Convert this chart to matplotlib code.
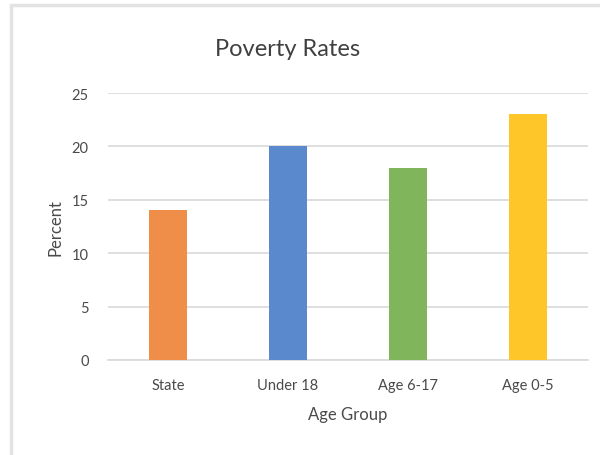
import matplotlib
matplotlib.use("Agg")
import matplotlib.pyplot as plt
from matplotlib.patches import Rectangle

categories = ["State", "Under 18", "Age 6-17", "Age 0-5"]
values = [14, 20, 18, 23]
colors = ["#EF8E48", "#5A8ACD", "#80B55B", "#FFC62A"]
yticks = [0, 5, 10, 15, 20, 25]

plt.rcParams['font.family'] = ['Lato', 'DejaVu Sans']

fig = plt.figure(figsize=(6.0, 4.56), dpi=100)
fig.patch.set_facecolor("white")

# outer chart frame
fig.patches.append(Rectangle((11/600, -0.01), 1.2, 1 - 6/456 + 0.01,
                             transform=fig.transFigure, fill=False,
                             edgecolor="#e3e3e3", linewidth=2.5))

ax = fig.add_axes([108/600, 1 - 361/456, 480/600, (361 - 94)/456])
x = list(range(len(categories)))
ax.bar(x, values, width=0.31, color=colors, zorder=3)
ax.set_xlim(-0.5, len(categories) - 0.5)
ax.set_ylim(0, 25)
ax.set_yticks(yticks)
ax.set_xticks(x)
ax.set_xticklabels(categories)
ax.yaxis.grid(True, color="#d9d9d9", linewidth=1.2, zorder=0)
for s in ["top", "right", "left"]:
    ax.spines[s].set_visible(False)
ax.spines["bottom"].set_color("#d9d9d9")
ax.spines["bottom"].set_linewidth(1.2)
ax.tick_params(axis="both", length=0, labelsize=10.5, colors="#4a4a4a")
ax.tick_params(axis="x", pad=13)
ax.tick_params(axis="y", pad=14)
ax.set_xlabel("Age Group", fontsize=12, color="#4a4a4a", labelpad=10)
ax.set_ylabel("Percent", fontsize=12, color="#4a4a4a", labelpad=6)
fig.text(288/600, 1 - 50/456, "Poverty Rates", ha="center", va="center",
         fontsize=17, color="#404040")

fig.savefig("out.png", dpi=100)
